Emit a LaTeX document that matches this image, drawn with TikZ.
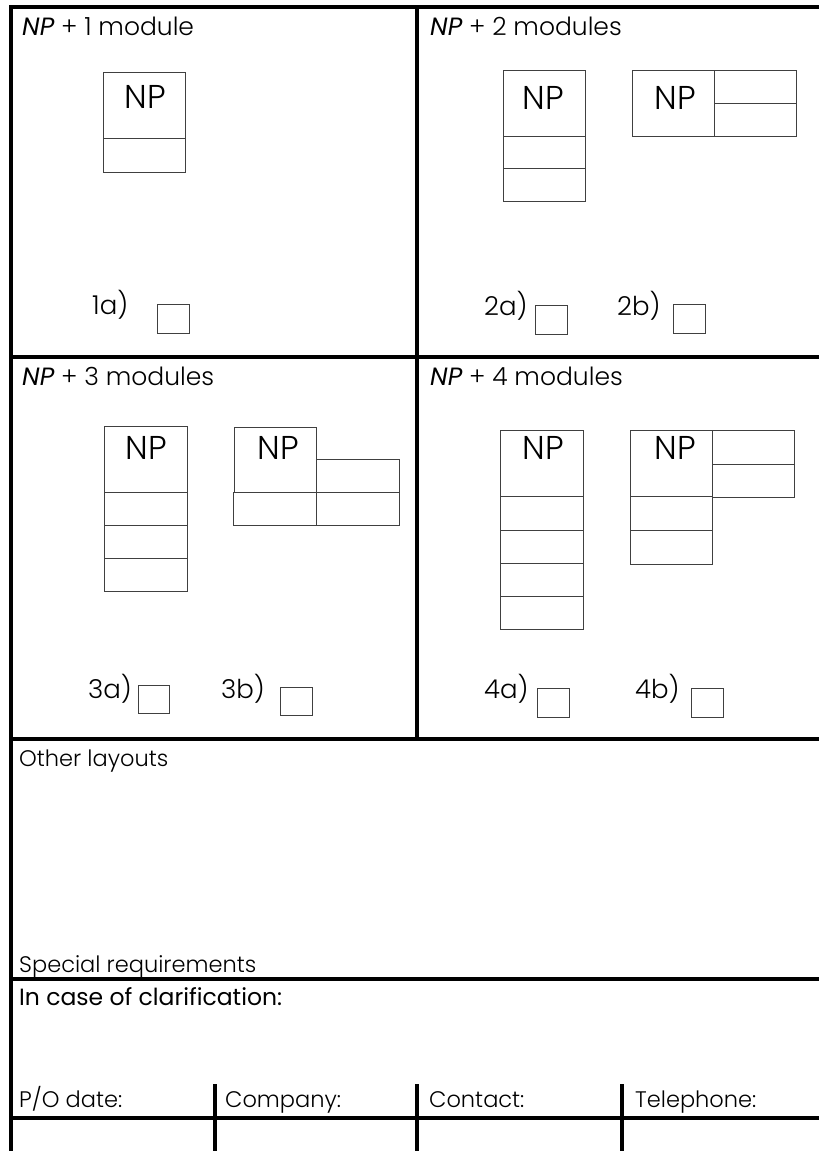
\documentclass[tikz,border=0pt]{standalone}
\usepackage{fontspec}
\IfFontExistsTF{Poppins Light}{\newfontfamily\lt{Poppins Light}}{\newfontfamily\lt{Poppins}}
\newfontfamily\rg{Poppins}
\begin{document}
\begin{tikzpicture}[x=1pt,y=-1pt,
  frame/.style={line width=4pt},
  thinbox/.style={line width=1pt, draw=black!75},
  title/.style={anchor=base west, inner sep=0pt, font=\lt\fontsize{25}{29}\selectfont},
  nptext/.style={anchor=base, inner sep=0pt, font=\lt\fontsize{33}{37}\selectfont},
  optlbl/.style={anchor=base west, inner sep=0pt, font=\lt\fontsize{26}{30}\selectfont},
  field/.style={anchor=base west, inner sep=0pt, font=\lt\fontsize{22.5}{26}\selectfont},
  boldfield/.style={anchor=base west, inner sep=0pt, font=\rg\fontsize{23.5}{27}\selectfont}]
\useasboundingbox (0,0) rectangle (819,1151);

% frame lines
\draw[frame] (11,1151) -- (11,6.5) -- (819,6.5);
\draw[frame] (417,6.5) -- (417,739);
\draw[frame] (11,357) -- (819,357);
\draw[frame] (11,739) -- (819,739);
\draw[frame] (11,979) -- (819,979);
\draw[frame] (11,1118) -- (819,1118);
\draw[frame] (215,1084) -- (215,1151);
\draw[frame] (417,1084) -- (417,1151);
\draw[frame] (622,1084) -- (622,1151);

% titles
\node[title] (t1) at (22,35) {{\rg\itshape NP} + 1 module};
\node[title] (t2) at (430,35) {{\rg\itshape NP} + 2 modules};
\node[title] (t3) at (22,385) {{\rg\itshape NP} + 3 modules};
\node[title] (t4) at (430,385) {{\rg\itshape NP} + 4 modules};

% 1a
\draw[thinbox] (103,72) rectangle (185,138);
\draw[thinbox] (103,138) rectangle (185,172);
\node[nptext] (np1a) at (145,108) {NP};

% 2a
\draw[thinbox] (503,70) rectangle (585,136);
\draw[thinbox] (503,136) rectangle (585,168);
\draw[thinbox] (503,168) rectangle (585,201);
\node[nptext] (np2a) at (543,109) {NP};
% 2b
\draw[thinbox] (632,70) rectangle (714,136);
\draw[thinbox] (714,70) rectangle (796,103);
\draw[thinbox] (714,103) rectangle (796,136);
\node[nptext] (np2b) at (675,109) {NP};

% 3a
\draw[thinbox] (104,426) rectangle (187,492);
\draw[thinbox] (104,492) rectangle (187,525);
\draw[thinbox] (104,525) rectangle (187,558);
\draw[thinbox] (104,558) rectangle (187,591);
\node[nptext] (np3a) at (146,459) {NP};
% 3b
\draw[thinbox] (234,427) rectangle (316,492);
\draw[thinbox] (316,459) rectangle (399,492);
\draw[thinbox] (233,492) rectangle (316,525);
\draw[thinbox] (316,492) rectangle (399,525);
\node[nptext] (np3b) at (278,459) {NP};

% 4a
\draw[thinbox] (500,430) rectangle (583,496);
\draw[thinbox] (500,496) rectangle (583,530);
\draw[thinbox] (500,530) rectangle (583,563);
\draw[thinbox] (500,563) rectangle (583,596);
\draw[thinbox] (500,596) rectangle (583,629);
\node[nptext] (np4a) at (543,459) {NP};
% 4b
\draw[thinbox] (630,430) rectangle (712,496);
\draw[thinbox] (712,430) rectangle (794,464);
\draw[thinbox] (712,464) rectangle (794,497);
\draw[thinbox] (630,496) rectangle (712,530);
\draw[thinbox] (630,530) rectangle (712,564);
\node[nptext] (np4b) at (675,459) {NP};

% option labels and check boxes
\node[optlbl] (l1a) at (92,314) {1a)};
\draw[thinbox] (157,304) rectangle (189,333);
\node[optlbl] (l2a) at (484,315) {2a)};
\draw[thinbox] (535,305) rectangle (567,334);
\node[optlbl] (l2b) at (617,315) {2b)};
\draw[thinbox] (673,304) rectangle (705,333);
\node[optlbl] (l3a) at (88,698) {3a)};
\draw[thinbox] (138,685) rectangle (169,713);
\node[optlbl] (l3b) at (221,698) {3b)};
\draw[thinbox] (280,687) rectangle (312,715);
\node[optlbl] (l4a) at (484,698) {4a)};
\draw[thinbox] (537,688) rectangle (569,717);
\node[optlbl] (l4b) at (635,698) {4b)};
\draw[thinbox] (691,688) rectangle (723,717);

% bottom section
\node[field] (other) at (19,766) {Other layouts};
\node[field] (special) at (19,972) {Special requirements};
\node[boldfield] (clar) at (19,1005) {In case of clarification:};
\node[field] (po) at (19,1107) {P/O date:};
\node[field] (comp) at (225,1107) {Company:};
\node[field] (cont) at (429,1107) {Contact:};
\node[field] (tel) at (635,1107) {Telephone:};
\end{tikzpicture}
\end{document}
